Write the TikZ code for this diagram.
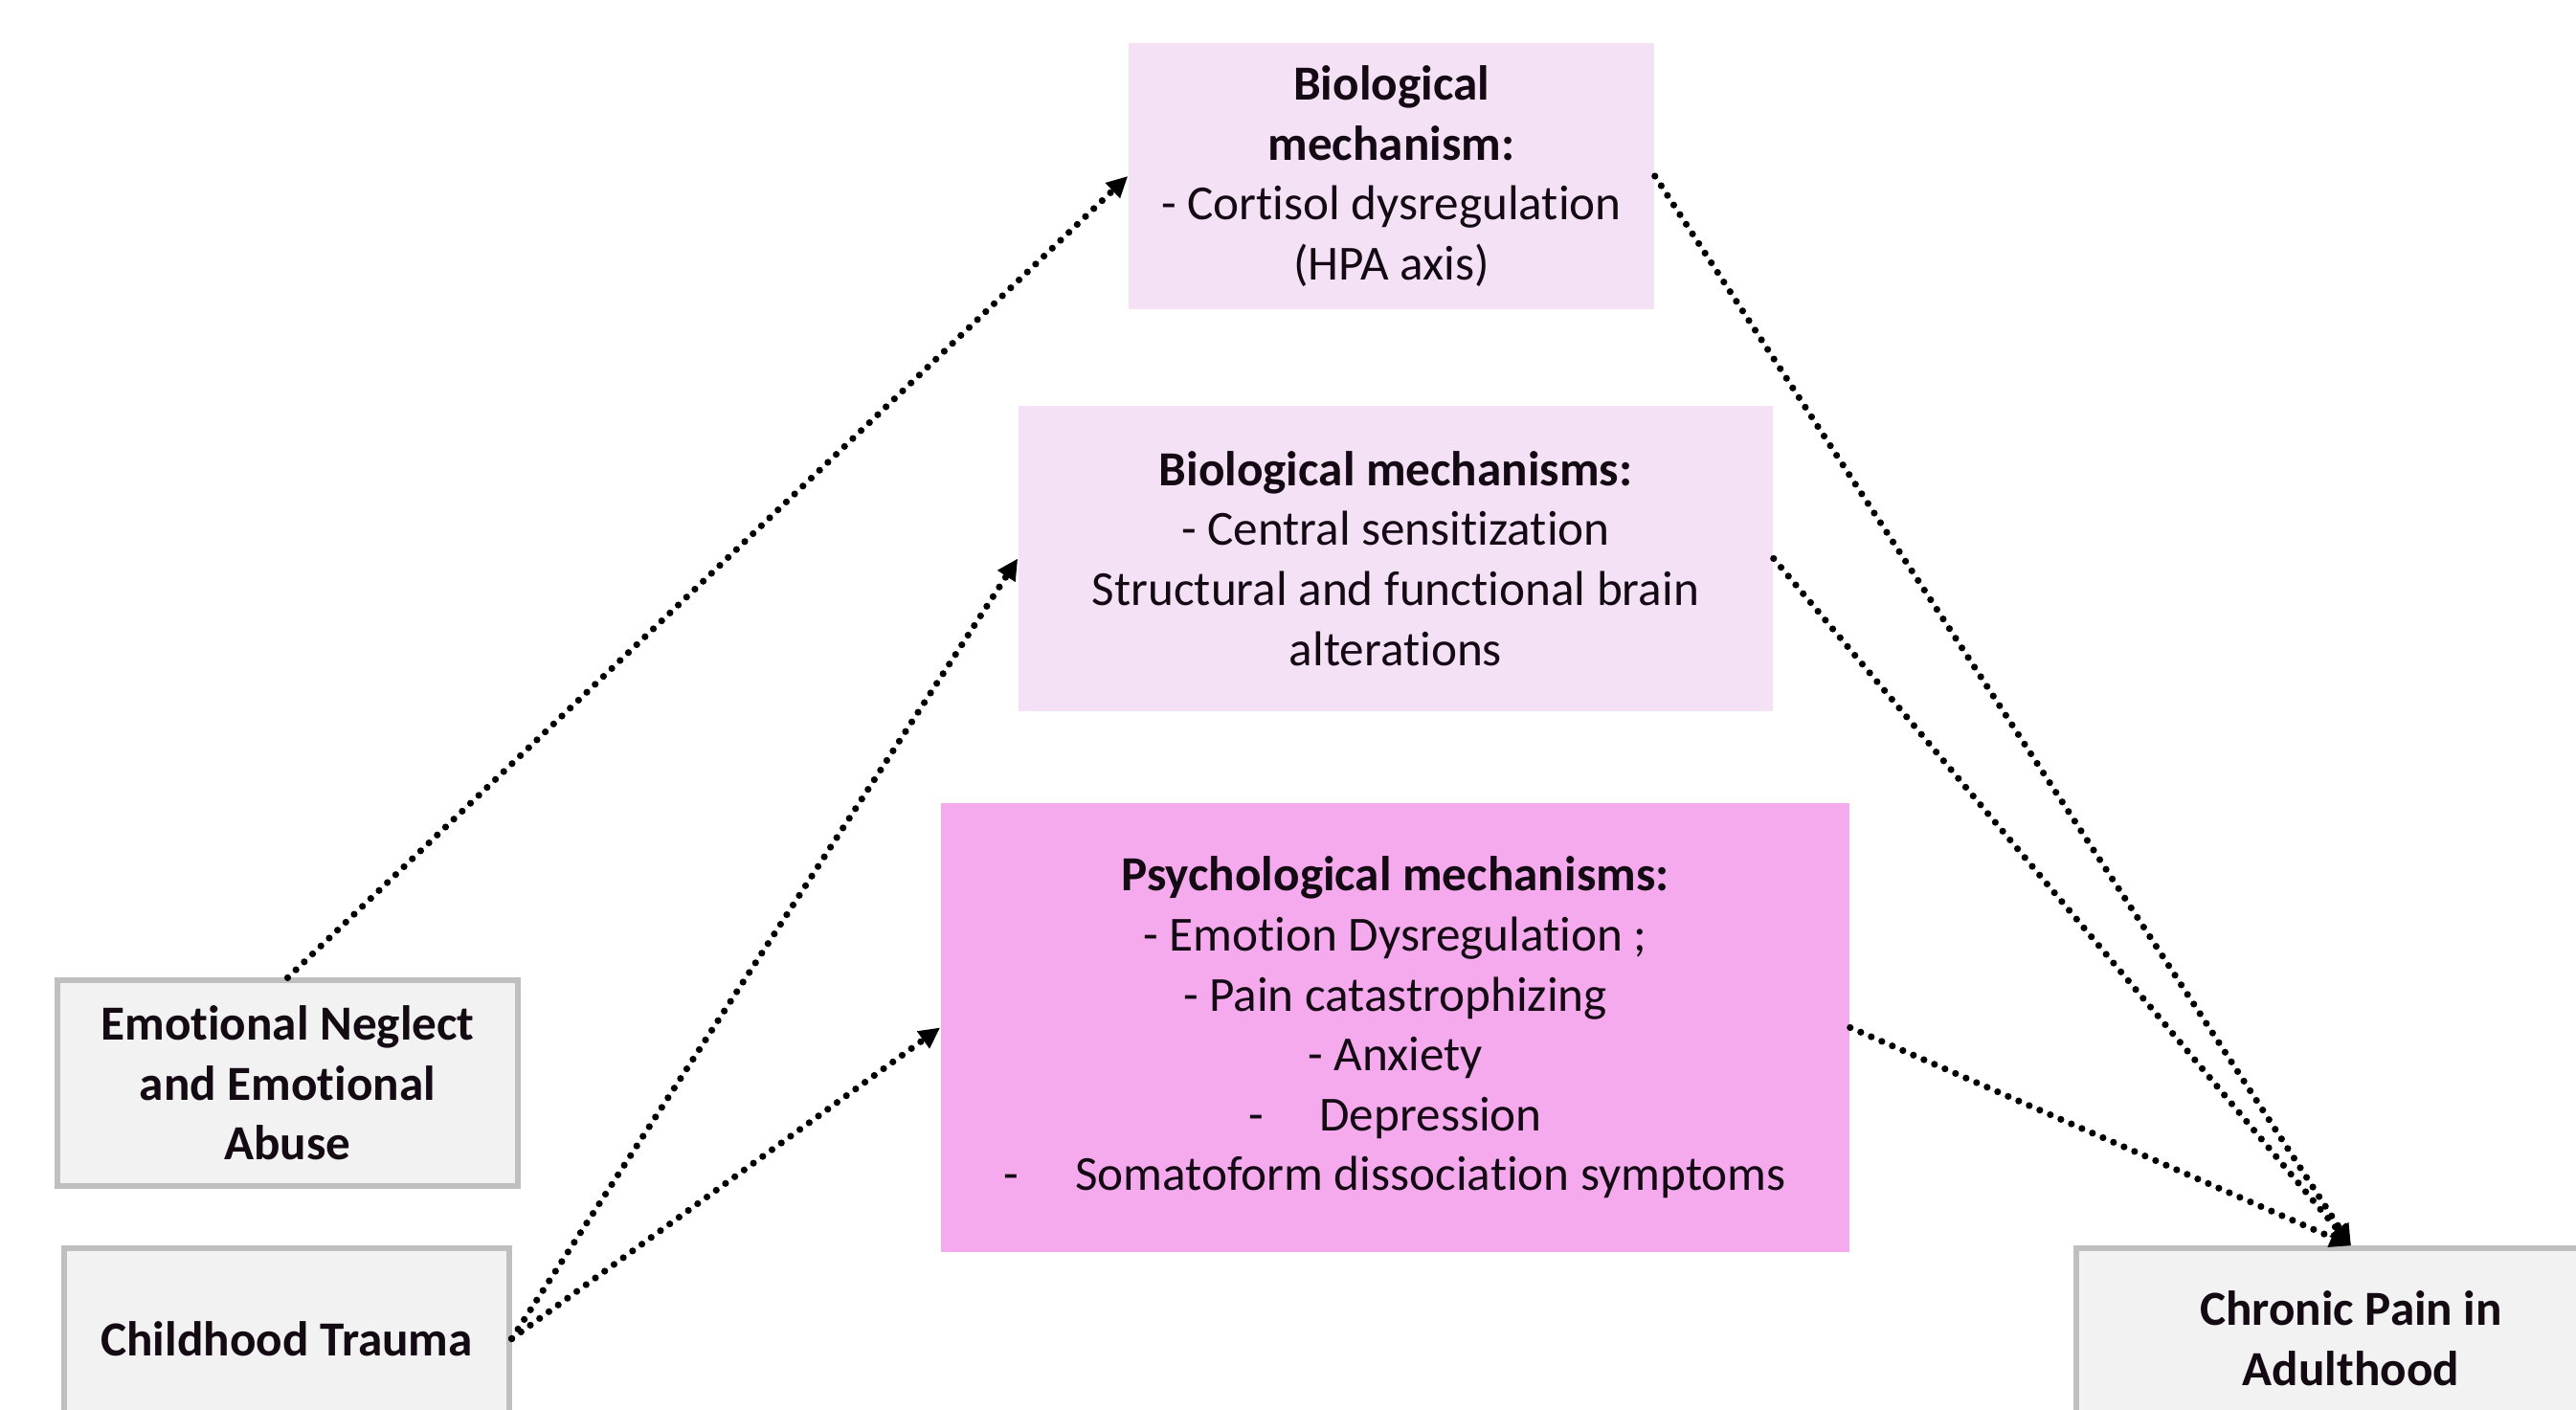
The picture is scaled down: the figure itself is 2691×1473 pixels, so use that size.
\documentclass[tikz,border=0pt]{standalone}
\usepackage{fontspec}
\setmainfont[Ligatures={NoCommon}]{Carlito}
\usetikzlibrary{arrows.meta}
\definecolor{biofill}{RGB}{245,225,245}
\definecolor{psyfill}{RGB}{244,170,236}
\definecolor{grayfill}{RGB}{242,242,242}
\definecolor{grayline}{RGB}{191,191,191}
\definecolor{txt}{RGB}{20,10,20}
\tikzset{
  basebox/.style={align=center, inner sep=0pt, text=txt,
    font=\fontsize{12.8}{15.65}\selectfont},
  biobox/.style={basebox, fill=biofill},
  psybox/.style={basebox, fill=psyfill},
  graybox/.style={basebox, fill=grayfill, draw=grayline, line width=1.3pt},
  dotarrow/.style={line width=1.8pt, line cap=round, dash pattern=on 0pt off 3pt,
    -{Triangle[length=5.5pt,width=5.2pt]}, black}
}
\begin{document}
\begin{tikzpicture}[x=0.25pt,y=-0.25pt]
\useasboundingbox (0,0) rectangle (2691,1473);
\fill[white] (0,0) rectangle (2691,1473);
\node[biobox, minimum width=137.25pt, minimum height=69.5pt] (B1) at (1453.5,184)
  {\textbf{Biological}\\\textbf{mechanism:}\\- Cortisol dysregulation\\(HPA axis)};
\node[biobox, minimum width=197pt, minimum height=79.75pt] (B2) at (1458,583.5)
  {\textbf{Biological mechanisms:}\\- Central sensitization\\Structural and functional brain\\alterations};
\node[psybox, minimum width=237.25pt, minimum height=117.25pt] (B3) at (1457.5,1073.5)
  {\textbf{Psychological mechanisms:}\\- Emotion Dysregulation ;\\- Pain catastrophizing\\- Anxiety\\-\hspace{14.6pt}Depression\\-\hspace{14.6pt}Somatoform dissociation symptoms};
\node[graybox, minimum width=120.25pt, minimum height=53.75pt] (EN) at (300.5,1131.5)
  {\textbf{Emotional Neglect}\\\textbf{and Emotional}\\\textbf{Abuse}};
\node[graybox, minimum width=116.25pt, minimum height=47.25pt] (CT) at (299.5,1398.5)
  {\textbf{Childhood Trauma}};
\node[graybox, minimum width=143.5pt, minimum height=47.25pt] (CP) at (2456,1398.5)
  {\textbf{Chronic Pain in}\\\textbf{Adulthood}};
\draw[dotarrow] (EN.north) -- (B1.west);
\draw[dotarrow] (CT.east) -- (B2.west);
\draw[dotarrow] (CT.east) -- (B3.west);
\draw[dotarrow] (B1.east) -- (CP.north);
\draw[dotarrow] (B2.east) -- (CP.north);
\draw[dotarrow] (B3.east) -- (CP.north);
\end{tikzpicture}
\end{document}
